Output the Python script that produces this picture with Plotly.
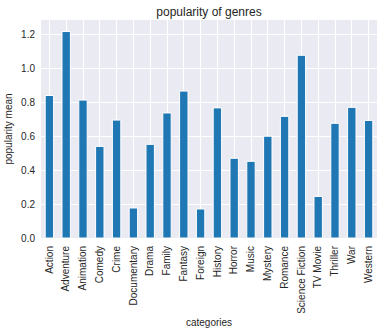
import plotly.graph_objects as go

categories = ["Action", "Adventure", "Animation", "Comedy", "Crime", "Documentary",
              "Drama", "Family", "Fantasy", "Foreign", "History", "Horror", "Music",
              "Mystery", "Romance", "Science Fiction", "TV Movie", "Thriller", "War", "Western"]
popularity_mean = [0.840, 1.217, 0.813, 0.540, 0.695, 0.177, 0.552, 0.737, 0.866, 0.171,
                   0.767, 0.470, 0.452, 0.600, 0.717, 1.077, 0.245, 0.676, 0.770, 0.693]
y_ticks = [0.0, 0.2, 0.4, 0.6, 0.8, 1.0, 1.2]

font_family = "Liberation Sans, Arial, sans-serif"
text_color = "#262626"

fig = go.Figure(go.Bar(
    x=list(range(len(categories))),
    y=popularity_mean,
    marker=dict(color="#1f77b4", line=dict(color="white", width=1)),
    width=0.5,
))

fig.update_layout(
    width=383, height=333,
    margin=dict(l=41, r=6, t=20, b=95),
    paper_bgcolor="white",
    plot_bgcolor="#EAEAF2",
    showlegend=False,
    font=dict(family=font_family, size=10, color=text_color),
    title=dict(text="popularity of genres", x=0.5, xanchor="center",
               xref="paper", y=1 - 12 / 333, yanchor="middle",
               font=dict(size=12, color=text_color)),
    xaxis=dict(
        range=[-0.5, len(categories) - 0.5],
        tickmode="array",
        tickvals=list(range(len(categories))),
        ticktext=categories,
        tickangle=-90,
        showgrid=True, gridcolor="white", gridwidth=1,
        zeroline=False, showline=False, ticks="",
        ticklabelstandoff=5,
        title=dict(text="categories", standoff=6, font=dict(size=10)),
        tickfont=dict(size=10),
    ),
    yaxis=dict(
        range=[0, 1.285],
        tickmode="array",
        tickvals=y_ticks,
        ticktext=[f"{v:.1f}" for v in y_ticks],
        showgrid=True, gridcolor="white", gridwidth=1,
        zeroline=False, showline=False, ticks="",
        ticklabelstandoff=5,
        title=dict(text="popularity mean", standoff=6, font=dict(size=10)),
        tickfont=dict(size=10),
    ),
)

fig.write_html("out.html")
